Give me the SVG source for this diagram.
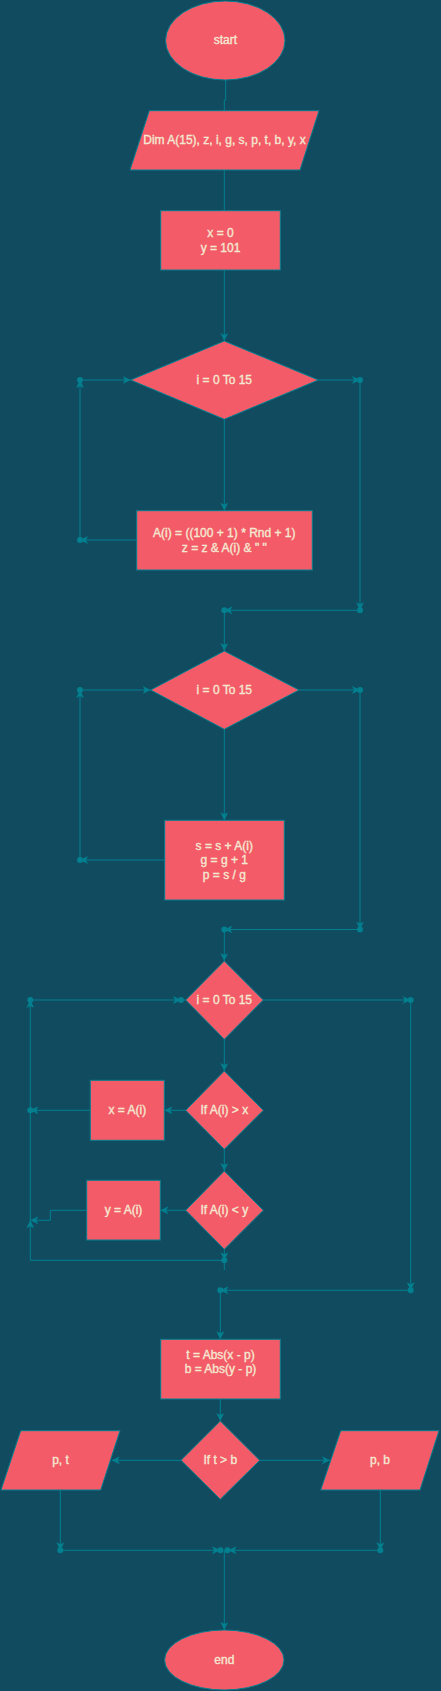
<svg xmlns="http://www.w3.org/2000/svg" width="441" height="1691" viewBox="0 0 441 1691">
<style>
.n{fill:#F45B69;stroke:#028090;stroke-width:1}
.t{fill:#F3E9D2;stroke:#F3E9D2;stroke-width:0.35;font-family:"Liberation Sans",Arial,sans-serif;font-size:12px;text-anchor:middle;dominant-baseline:central}
.c{fill:none;stroke:#028090;stroke-width:1}
.a{marker-end:url(#arr)}
.d{fill:#028090}
</style>
<defs>
<marker id="arr" viewBox="0 0 8 8" refX="8" refY="4" markerWidth="8" markerHeight="8" orient="auto" markerUnits="userSpaceOnUse">
<path d="M0,0 L8,4 L0,8 L2,4 z" fill="#028090"/>
</marker>
</defs>
<rect width="441" height="1691" fill="#114B5F"/>
<g id="connectors">
<path class="c" d="M225.7,80 V100 H224.3 V110.7"/>
<path class="c" d="M224.3,170 V210.7"/>
<path class="c a" d="M224.3,270 V341"/>
<path class="c a" d="M136.7,540 H80"/>
<path class="c a" d="M80,540 V380"/>
<path class="c a" d="M80,380 H130.7"/>
<path class="c a" d="M224.3,419.3 V510.7"/>
<path class="c a" d="M318.3,380 H360"/>
<path class="c a" d="M360,380 V610.3"/>
<path class="c a" d="M360,610.3 H224.3"/>
<path class="c a" d="M224.3,610.3 V651"/>
<path class="c a" d="M164.7,860 H80"/>
<path class="c a" d="M80,860 V690"/>
<path class="c a" d="M80,690 H150.7"/>
<path class="c a" d="M224.3,729.3 V820.3"/>
<path class="c a" d="M299,690 H360"/>
<path class="c a" d="M360,690 V929.5"/>
<path class="c a" d="M360,929.5 H224.3"/>
<path class="c a" d="M224.3,929.5 V961"/>
<path class="c a" d="M30.3,1220 V1000"/>
<path class="c a" d="M30.3,1000 H181"/>
<path class="c" d="M181,1000 H185.7"/>
<path class="c a" d="M263.3,1000 H410.7"/>
<path class="c a" d="M410.7,1000 V1290.3"/>
<path class="c a" d="M410.7,1290.3 H220.3"/>
<path class="c a" d="M220.3,1290.3 V1339.3"/>
<path class="c a" d="M224.3,1039.3 V1071"/>
<path class="c a" d="M185.7,1110.3 H164.3"/>
<path class="c a" d="M90.3,1110.3 H30.3"/>
<path class="c a" d="M224.3,1149.3 V1171"/>
<path class="c a" d="M185.7,1210.3 H160.3"/>
<path class="c a" d="M86.7,1210.3 H50.3 V1220.3 H30.3"/>
<path class="c a" d="M224.3,1249.3 V1260.3"/>
<path class="c" d="M224.3,1260.3 V1270"/>
<path class="c a" d="M224.3,1260.3 H30.3 V1220.3"/>
<path class="c a" d="M220.3,1399 V1421"/>
<path class="c a" d="M181,1460.3 H111.7"/>
<path class="c a" d="M259.7,1460.3 H330"/>
<path class="c a" d="M60.3,1490 V1550.3"/>
<path class="c a" d="M380.3,1490 V1550.3"/>
<path class="c a" d="M60.3,1550.3 H220"/>
<path class="c a" d="M380.3,1550.3 H228.5"/>
<path class="c a" d="M224.3,1550.3 V1630"/>
<circle class="d" cx="80" cy="540" r="3"/>
<circle class="d" cx="80" cy="380" r="3"/>
<circle class="d" cx="360" cy="380" r="3"/>
<circle class="d" cx="360" cy="610.3" r="3"/>
<circle class="d" cx="224.3" cy="610.3" r="3"/>
<circle class="d" cx="80" cy="860" r="3"/>
<circle class="d" cx="80" cy="690" r="3"/>
<circle class="d" cx="360" cy="690" r="3"/>
<circle class="d" cx="360" cy="929.5" r="3"/>
<circle class="d" cx="224.3" cy="929.5" r="3"/>
<circle class="d" cx="30.3" cy="1000" r="3"/>
<circle class="d" cx="181" cy="1000" r="3"/>
<circle class="d" cx="410.7" cy="1000" r="3"/>
<circle class="d" cx="410.7" cy="1290.3" r="3"/>
<circle class="d" cx="220.3" cy="1290.3" r="3"/>
<circle class="d" cx="30.3" cy="1110.3" r="3"/>
<circle class="d" cx="224.3" cy="1260.3" r="3"/>
<circle class="d" cx="60.3" cy="1550.3" r="3"/>
<circle class="d" cx="380.3" cy="1550.3" r="3"/>
<circle class="d" cx="220.5" cy="1550.3" r="3"/>
<circle class="d" cx="227.5" cy="1550.3" r="3"/>
</g>
<g id="start">
<ellipse class="n" cx="225.3" cy="40.5" rx="59.7" ry="39.5"/>
<text class="t" x="225.3" y="40">start</text>
</g>
<g id="dim">
<polygon class="n" points="149.3,110.7 319,110.7 300,170 130,170"/>
<text class="t" x="224.5" y="140">Dim A(15), z, i, g, s, p, t, b, y, x</text>
</g>
<g id="init">
<rect class="n" x="160.7" y="210.7" width="119.6" height="59.3"/>
<text class="t" x="220.5" y="232.7">x = 0</text>
<text class="t" x="220.5" y="247.7">y = 101</text>
</g>
<g id="loop1">
<polygon class="n" points="224.3,341 318.3,380 224.3,419.3 130.7,380"/>
<text class="t" x="224.3" y="380">i = 0 To 15</text>
</g>
<g id="body1">
<rect class="n" x="136.7" y="510.7" width="175.6" height="59.3"/>
<text class="t" x="224.3" y="532.7">A(i) = ((100 + 1) * Rnd + 1)</text>
<text class="t" x="224.3" y="547.7">z = z &amp; A(i) &amp; " "</text>
</g>
<g id="loop2">
<polygon class="n" points="224.3,651 299,690 224.3,729.3 150.7,690"/>
<text class="t" x="224.3" y="690">i = 0 To 15</text>
</g>
<g id="body2">
<rect class="n" x="164.7" y="820.3" width="119.6" height="79.7"/>
<text class="t" x="224.3" y="845.7">s = s + A(i)</text>
<text class="t" x="224.3" y="860.3">g = g + 1</text>
<text class="t" x="224.3" y="875">p = s / g</text>
</g>
<g id="loop3">
<polygon class="n" points="224.3,961 263.3,1000 224.3,1039.3 185.7,1000"/>
<text class="t" x="224.3" y="1000">i = 0 To 15</text>
</g>
<g id="ifmax">
<polygon class="n" points="224.3,1071 263.3,1110.3 224.3,1149.3 185.7,1110.3"/>
<text class="t" x="224.3" y="1110.3">If A(i) &gt; x</text>
</g>
<g id="setx">
<rect class="n" x="90.3" y="1080.3" width="74" height="60"/>
<text class="t" x="127.3" y="1110.3">x = A(i)</text>
</g>
<g id="ifmin">
<polygon class="n" points="224.3,1171 263.3,1210.3 224.3,1249.3 185.7,1210.3"/>
<text class="t" x="224.3" y="1210.3">If A(i) &lt; y</text>
</g>
<g id="sety">
<rect class="n" x="86.7" y="1180.3" width="73.6" height="59.7"/>
<text class="t" x="123.5" y="1210.3">y = A(i)</text>
</g>
<g id="abs">
<rect class="n" x="160.7" y="1339.3" width="119.6" height="59.7"/>
<text class="t" x="220.5" y="1355.3">t = Abs(x - p)</text>
<text class="t" x="220.5" y="1369.3">b = Abs(y - p)</text>
</g>
<g id="iftb">
<polygon class="n" points="220.3,1421 259.7,1460.3 220.3,1499.3 181,1460.3"/>
<text class="t" x="220.3" y="1460.3">If t &gt; b</text>
</g>
<g id="outpt">
<polygon class="n" points="20.7,1430.7 120,1430.7 100.7,1490 1,1490"/>
<text class="t" x="60.5" y="1460">p, t</text>
</g>
<g id="outpb">
<polygon class="n" points="340.7,1430.7 439,1430.7 420,1490 320.7,1490"/>
<text class="t" x="380" y="1460">p, b</text>
</g>
<g id="end">
<ellipse class="n" cx="224.3" cy="1660" rx="59.7" ry="30"/>
<text class="t" x="224.3" y="1660">end</text>
</g>
</svg>
